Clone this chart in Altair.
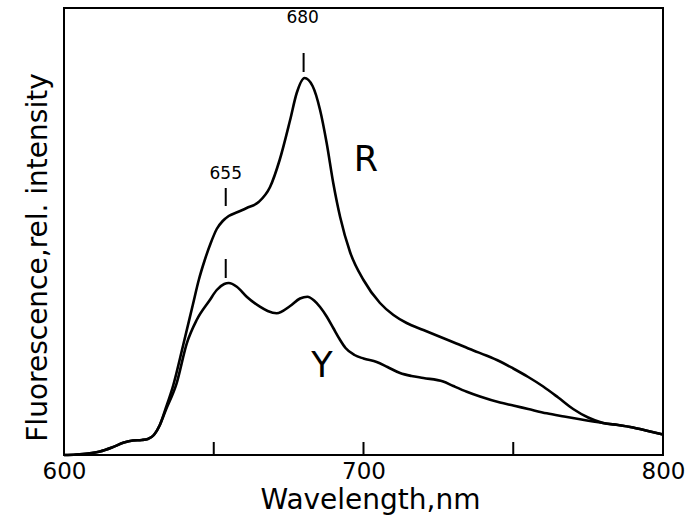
import altair as alt
import pandas as pd

# Wavelength (nm) and relative fluorescence intensity (arbitrary units)
wl_R = [600, 604, 608, 612, 616, 620, 623, 626, 628, 630, 632, 634, 636.5, 639.8, 643, 645, 647,
        649, 651, 653, 655, 658, 661, 665, 668.8, 672, 675.5, 677.7, 680.3, 683, 685.5, 687.7,
        689.9, 692.2, 695.5, 700, 705.5, 710, 714.4, 720, 725.5, 731, 736.7, 741, 745.6, 750,
        755, 760, 765, 770, 775, 780, 785, 790, 795, 800]
int_R = [0, 0.5, 1.5, 3.5, 7.5, 12.5, 14.5, 15, 16, 20, 30, 47, 70, 110, 150, 175, 195,
         212, 226, 234, 239, 243, 247, 253, 268, 295, 335, 362, 377, 369, 345, 312,
         272, 238, 203, 175, 152, 140, 132, 125, 118.3, 111.5, 104.5, 99.5, 93.5, 86.5,
         78, 68.5, 57.5, 46, 37.5, 32, 30, 27.5, 24, 20.5]

wl_Y = [600, 604, 608, 612, 616, 620, 623, 626, 628, 630, 632, 634, 637.6, 641, 644.3, 648.7,
        651, 653.5, 655, 657.7, 661, 665.4, 668, 671, 675.5, 678.8, 681.3, 683.5, 685.5, 687.7,
        689.9, 692, 694, 697, 700, 704.4, 708, 712.2, 716, 720, 726.6, 730, 734.5, 738.9,
        745.6, 750, 755, 761.2, 767, 772.3, 780, 785, 790, 795, 800]
int_Y = [0, 0.5, 1.5, 3.5, 7.5, 12.5, 14.5, 15, 16, 20, 30, 45, 71.7, 111.7, 135, 155,
         165, 171, 172, 168.3, 158.3, 148.3, 144, 141.7, 149, 156.5, 158.3, 154.5, 148, 138.5,
         127, 116, 107, 100, 96.5, 93, 88, 82, 79, 77, 73.5, 69, 63.3, 58.5,
         52.5, 49.5, 46, 41.7, 38.5, 35.7, 32, 30, 27.5, 24, 20.5]

x_label_values = [600, 700, 800]
minor_tick_values = [650, 700, 750]

# peak markers: wavelength, lower end, upper end
mark_wl = [680, 654, 654]
mark_lo = [383, 249, 177]
mark_hi = [402, 267, 196]

# peak labels
num_text = ["680", "655"]
num_wl = [679.7, 654]
num_v = [437, 281]

# curve labels
curve_text = ["R", "Y"]
curve_wl = [700.8, 686.1]
curve_v = [295, 89]

FONT = "DejaVu Sans"

df = pd.concat([
    pd.DataFrame({"wl": wl_R, "v": int_R, "series": "R"}),
    pd.DataFrame({"wl": wl_Y, "v": int_Y, "series": "Y"}),
])

xscale = alt.Scale(domain=[600, 800], nice=False, zero=False)
yscale = alt.Scale(domain=[0, 447], nice=False, zero=True)

x_enc = alt.X("wl:Q", scale=xscale,
              axis=alt.Axis(values=x_label_values, title="Wavelength,nm", ticks=False,
                            domain=False, grid=False, labelFontSize=23, labelFont=FONT,
                            labelColor="black", labelPadding=5, titleFontSize=28,
                            titleFont=FONT, titleFontWeight="normal", titleColor="black",
                            titlePadding=3, titleX=306, format="d", labelFlush=False))
y_enc = alt.Y("v:Q", scale=yscale,
              axis=alt.Axis(title="Fluorescence,rel. intensity", labels=False, ticks=False,
                            domain=False, grid=False, titleFontSize=28, titleFont=FONT,
                            titleFontWeight="normal", titleColor="black", titlePadding=12,
                            titleY=249))

lines = alt.Chart(df).mark_line(color="black", strokeWidth=2.6, interpolate="monotone").encode(
    x=x_enc, y=y_enc, detail="series:N")

minor = alt.Chart(pd.DataFrame({"t": minor_tick_values})).mark_rule(
    color="black", strokeWidth=2).encode(
    x=alt.X("t:Q", scale=xscale), y=alt.value(447), y2=alt.value(434))

peaks = alt.Chart(pd.DataFrame({"wl": mark_wl, "lo": mark_lo, "hi": mark_hi})).mark_rule(
    color="black", strokeWidth=2).encode(
    x=alt.X("wl:Q", scale=xscale), y=alt.Y("lo:Q", scale=yscale), y2="hi:Q")

nums = alt.Chart(pd.DataFrame({"wl": num_wl, "v": num_v, "t": num_text})).mark_text(
    fontSize=17, font=FONT, color="black", baseline="middle", align="center").encode(
    x=alt.X("wl:Q", scale=xscale), y=alt.Y("v:Q", scale=yscale), text="t:N")

letters = alt.Chart(pd.DataFrame({"wl": curve_wl, "v": curve_v, "t": curve_text})).mark_text(
    fontSize=35, font=FONT, color="black", baseline="middle", align="center").encode(
    x=alt.X("wl:Q", scale=xscale), y=alt.Y("v:Q", scale=yscale), text="t:N")

chart = alt.layer(lines, minor, peaks, nums, letters).properties(
    width=599, height=447,
    autosize=alt.AutoSizeParams(type="none"),
    padding={"left": 64, "top": 8, "right": 37, "bottom": 63},
    background="white",
).configure_view(stroke="black", strokeWidth=2)

chart.save("out.html", embed_options={"renderer": "svg", "actions": False})
